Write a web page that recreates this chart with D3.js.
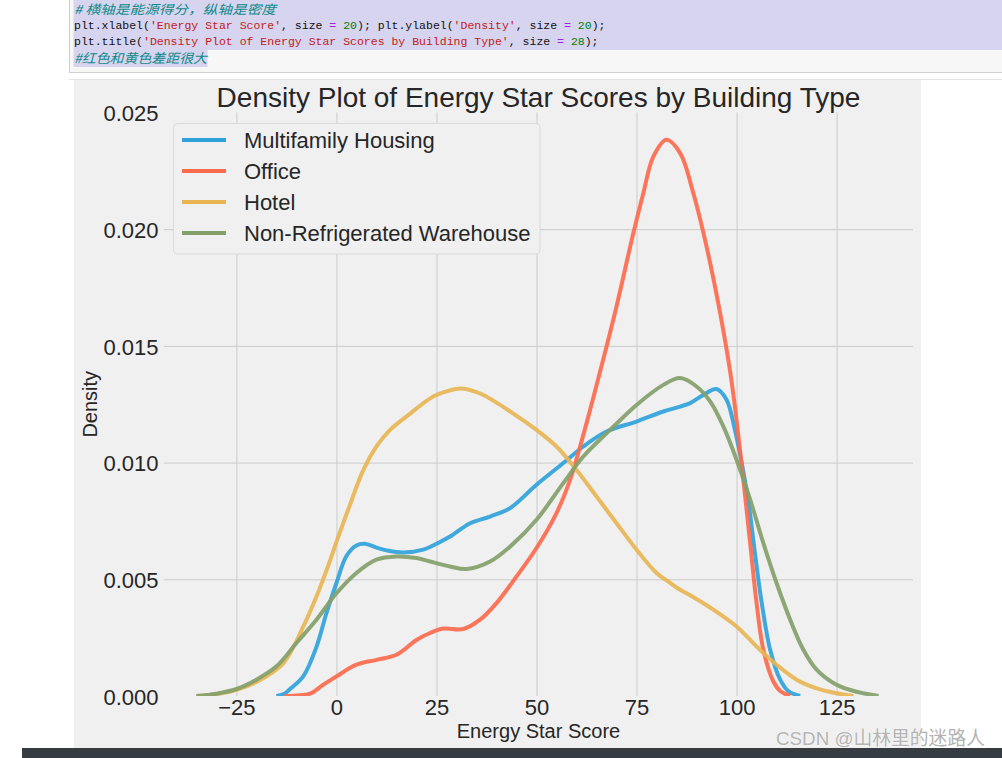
<!DOCTYPE html>
<html><head><meta charset="utf-8">
<script src="https://cdn.jsdelivr.net/npm/d3@7"></script>
<style>
body{margin:0;background:#fff;overflow:hidden}
svg{display:block}
</style>
</head><body>
<svg id="c" width="1002" height="758"></svg>
<script>
// ---------------- data ----------------
const seriesNames = ["Multifamily Housing", "Office", "Hotel", "Non-Refrigerated Warehouse"];
const seriesColors = ["#30a2da", "#fc6a4e", "#e8b552", "#83a06a"];

const multifamilyX = [-15, -13, -11.6, -8.3, -5, -2.5, 0, 2.5, 5, 7.1, 10, 13, 16.7, 21.7, 25.9, 28.4, 33.4, 38.4, 43.4, 50, 56.7, 61.7, 67.5, 75, 81.7, 85.9, 88.4, 91.7, 95, 97.5, 99.6, 101.3, 103, 104.6, 106.3, 108.4, 110.9, 113, 115.9];
const multifamilyY = [0, 0.0001, 0.0003, 0.00084, 0.0021, 0.00355, 0.00484, 0.006, 0.00645, 0.00652, 0.00636, 0.00622, 0.00615, 0.00627, 0.0066, 0.00683, 0.0074, 0.00769, 0.00805, 0.00905, 0.00998, 0.01069, 0.01133, 0.01176, 0.01219, 0.0124, 0.01255, 0.0129, 0.01315, 0.01269, 0.0114, 0.00998, 0.00827, 0.00612, 0.00398, 0.00198, 0.0007, 0.0002, 0];

const officeX = [-13, -10, -6.6, -3.3, 0, 5, 10, 15, 20, 23.4, 26.7, 31.7, 35.9, 40, 45, 50, 55, 58.4, 60.9, 63.4, 65.9, 70, 74.2, 76.7, 79.2, 82.5, 85.9, 89.2, 92.5, 95.9, 98.4, 100, 101.7, 103.4, 105, 106.7, 109.2, 111, 113.4];
const officeY = [0, 0.00002, 0.0001, 0.00048, 0.00084, 0.00134, 0.00155, 0.00177, 0.0024, 0.0027, 0.00289, 0.00287, 0.00327, 0.00398, 0.00512, 0.00634, 0.00784, 0.00926, 0.01069, 0.01226, 0.0139, 0.01669, 0.01983, 0.02154, 0.02311, 0.02383, 0.02326, 0.02154, 0.01926, 0.0164, 0.0139, 0.01183, 0.00926, 0.00655, 0.00398, 0.00198, 0.00062, 0.0002, 0];

const hotelX = [-35, -30, -25, -20, -13.3, -8.3, -5, -1.6, 0, 3.4, 6.7, 10, 13.4, 18.4, 23.4, 25, 30.9, 35.9, 44.2, 50, 55, 60, 65, 70, 75, 80, 83.4, 85.9, 88.4, 94.2, 100, 105, 110, 115, 120, 125, 129.2];
const hotelY = [0, 0.00008, 0.00026, 0.0006, 0.0014, 0.00297, 0.00426, 0.0058, 0.0066, 0.0082, 0.00968, 0.01069, 0.0114, 0.0121, 0.01275, 0.0129, 0.01318, 0.01296, 0.0121, 0.0114, 0.01069, 0.00968, 0.00855, 0.0074, 0.00627, 0.00527, 0.00485, 0.00455, 0.00432, 0.0037, 0.00298, 0.00212, 0.00134, 0.0007, 0.00033, 0.00012, 0];

const warehouseX = [-35, -30, -25, -20, -15, -10, -5, 0, 5, 10, 15, 20, 23.4, 28.4, 32.5, 38.4, 43.4, 50, 56.7, 61.7, 68.4, 75, 81.7, 85.9, 90, 93.4, 96.7, 100, 103.4, 106.7, 110, 113.4, 116.7, 120, 125, 130, 135.5];
const warehouseY = [0, 0.0001, 0.0003, 0.0007, 0.00127, 0.00227, 0.00327, 0.0044, 0.00527, 0.00584, 0.00598, 0.00591, 0.00576, 0.00555, 0.00544, 0.00576, 0.0064, 0.00755, 0.00912, 0.01026, 0.0114, 0.01247, 0.01333, 0.01362, 0.01326, 0.01262, 0.01155, 0.01012, 0.00841, 0.00655, 0.00484, 0.00327, 0.00198, 0.00113, 0.00048, 0.00018, 0];

const xTicks = [-25, 0, 25, 50, 75, 100, 125];
const yTicks = [0, 0.005, 0.010, 0.015, 0.020, 0.025];
const xDomain = [-43.1, 144.1];
const yDomain = [0, 0.025];

const titleText = "Density Plot of Energy Star Scores by Building Type";
const xLabelText = "Energy Star Score";
const yLabelText = "Density";

// ---------------- drawing ----------------
const svg = d3.select("#c");
const FONT = "'Liberation Sans', Arial, Helvetica, sans-serif";
const TXT = "#262626";

// code cell at the top
const code = svg.append("g");
code.append("rect").attr("x", 69.5).attr("y", -1).attr("width", 940).attr("height", 73.5)
  .attr("fill", "#f7f7f7").attr("stroke", "#cfcfcf");
code.append("rect").attr("x", 73.5).attr("y", 0).attr("width", 930).attr("height", 50).attr("fill", "#d7d4ef");
code.append("rect").attr("x", 73.5).attr("y", 50).attr("width", 134).attr("height", 17).attr("fill", "#d7d4ef");

const CJK = "'Noto Sans CJK SC', sans-serif";
const MONO = "'Liberation Mono', 'DejaVu Sans Mono', monospace";
code.append("text").attr("x", 74).attr("y", 13.5).attr("font-family", CJK).attr("font-size", 12.5)
  .attr("font-style", "italic").attr("fill", "#118a8a")
  .attr("textLength", 202).attr("lengthAdjust", "spacingAndGlyphs")
  .text("# 横轴是能源得分，纵轴是密度");
code.append("text").attr("x", 74).attr("y", 62.5).attr("font-family", CJK).attr("font-size", 13)
  .attr("font-style", "italic").attr("fill", "#118a8a")
  .attr("textLength", 133).attr("lengthAdjust", "spacingAndGlyphs")
  .text("#红色和黄色差距很大");

const codeColors = {k: "#111", s: "#c41a1a", o: "#a020f0", n: "#008000"};
function codeLine(y, parts) {
  const t = code.append("text").attr("x", 74).attr("y", y).attr("font-family", MONO)
    .attr("font-size", 11.5).attr("xml:space", "preserve");
  parts.forEach(p => t.append("tspan").attr("fill", codeColors[p[0]]).text(p[1]));
}
codeLine(28.5, [["k", "plt.xlabel("], ["s", "'Energy Star Score'"], ["k", ", size "], ["o", "="], ["k", " "], ["n", "20"],
  ["k", "); plt.ylabel("], ["s", "'Density'"], ["k", ", size "], ["o", "="], ["k", " "], ["n", "20"], ["k", ");"]]);
codeLine(45, [["k", "plt.title("], ["s", "'Density Plot of Energy Star Scores by Building Type'"], ["k", ", size "], ["o", "="], ["k", " "], ["n", "28"], ["k", ");"]]);

svg.append("line").attr("x1", 69).attr("x2", 1002).attr("y1", 79.5).attr("y2", 79.5).attr("stroke", "#e4e4e4");

// figure background
svg.append("rect").attr("x", 74).attr("y", 80).attr("width", 847).attr("height", 670).attr("fill", "#f0f0f0");

// plot area
const L = 164, R = 913, T = 112.5, B = 696;
const x = d3.scaleLinear().domain(xDomain).range([L, R]);
const y = d3.scaleLinear().domain(yDomain).range([B, T]);

// vertical grid + x tick labels
const gx = svg.append("g").attr("transform", `translate(0,${B})`)
  .call(d3.axisBottom(x).tickValues(xTicks).tickSizeInner(-(B - T)).tickSizeOuter(0).tickPadding(3.4));
gx.select(".domain").remove();
gx.selectAll(".tick line").attr("stroke", "#cbcbcb").attr("stroke-width", 1);
gx.selectAll(".tick text").attr("fill", TXT).attr("font-family", FONT).attr("font-size", 22);

// horizontal grid + y tick labels
const gy = svg.append("g").attr("transform", `translate(${L},0)`)
  .call(d3.axisLeft(y).tickValues(yTicks).tickFormat(d3.format(".3f")).tickSizeInner(-(R - L)).tickSizeOuter(0).tickPadding(5.5));
gy.select(".domain").remove();
gy.selectAll(".tick line").attr("stroke", "#cbcbcb").attr("stroke-width", 1)
  .attr("display", d => (d === 0 || d === 0.025) ? "none" : null);
gy.selectAll(".tick text").attr("fill", TXT).attr("font-family", FONT).attr("font-size", 22).attr("dy", "0.37em");

// clip
svg.append("clipPath").attr("id", "plotclip").append("rect")
  .attr("x", L).attr("y", T).attr("width", R - L).attr("height", B - T);

const seriesX = [multifamilyX, officeX, hotelX, warehouseX];
const seriesY = [multifamilyY, officeY, hotelY, warehouseY];
const line = d3.line().x(d => x(d[0])).y(d => y(d[1])).curve(d3.curveCatmullRom.alpha(0.5));

const lines = svg.append("g").attr("clip-path", "url(#plotclip)");
seriesNames.forEach((name, i) => {
  const pts = d3.zip(seriesX[i], seriesY[i]);
  lines.append("path").datum(pts).attr("d", line)
    .attr("fill", "none").attr("stroke", seriesColors[i]).attr("stroke-width", 4)
    .attr("stroke-opacity", 0.92)
    .attr("stroke-linejoin", "round").attr("stroke-linecap", "butt");
});

// title and axis labels
svg.append("text").attr("x", (L + R) / 2).attr("y", 106.5).attr("text-anchor", "middle")
  .attr("font-family", FONT).attr("font-size", 28).attr("fill", TXT).text(titleText);
svg.append("text").attr("x", (L + R) / 2).attr("y", 738.3).attr("text-anchor", "middle")
  .attr("font-family", FONT).attr("font-size", 20).attr("fill", TXT).text(xLabelText);
svg.append("text").attr("transform", `translate(97,${(T + B) / 2}) rotate(-90)`).attr("text-anchor", "middle")
  .attr("font-family", FONT).attr("font-size", 20).attr("fill", TXT).text(yLabelText);

// legend
const lg = svg.append("g");
lg.append("rect").attr("x", 173.5).attr("y", 123.5).attr("width", 366.5).attr("height", 130.5).attr("rx", 4)
  .attr("fill", "#f0f0f0").attr("stroke", "#dadada").attr("stroke-width", 1);
seriesNames.forEach((name, i) => {
  const ly = 140 + 31 * i;
  lg.append("line").attr("x1", 182).attr("x2", 226).attr("y1", ly).attr("y2", ly)
    .attr("stroke", seriesColors[i]).attr("stroke-width", 4);
  lg.append("text").attr("x", 244).attr("y", ly + 8.3).attr("font-family", FONT).attr("font-size", 22)
    .attr("fill", TXT).text(name);
});

// bottom dark bar
svg.append("rect").attr("x", 22).attr("y", 748).attr("width", 980).attr("height", 10).attr("fill", "#353d43");

// watermark
svg.append("text").attr("x", 776).attr("y", 745).attr("font-family", "'Liberation Sans', 'Noto Sans CJK SC', sans-serif")
  .attr("font-size", 18.8).attr("fill", "#b3b3b3").attr("stroke", "#ffffff").attr("stroke-width", 0.6)
  .attr("paint-order", "stroke").text("CSDN @山林里的迷路人");
</script>
</body></html>
